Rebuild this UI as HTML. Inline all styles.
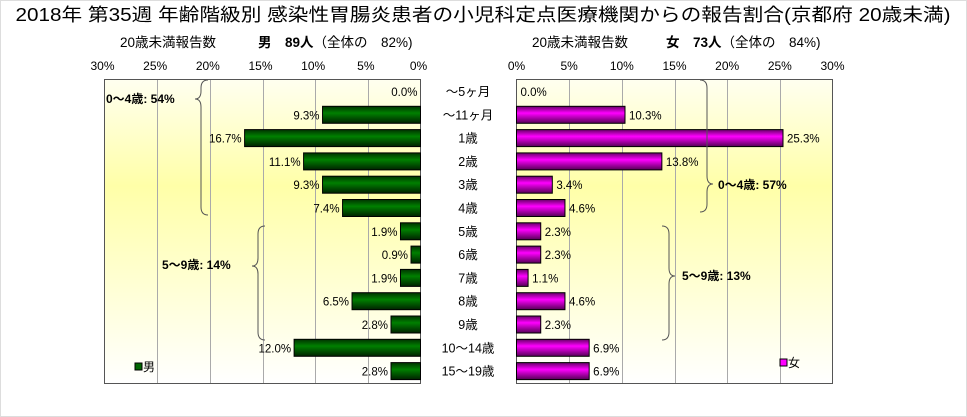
<!DOCTYPE html>
<html><head><meta charset="utf-8">
<style>
body{margin:0;background:#fff;}
svg{display:block;font-family:"Liberation Sans","Noto Sans CJK JP",sans-serif;}
</style></head>
<body>
<svg id="c" width="967" height="417" xmlns="http://www.w3.org/2000/svg">
<defs>
<linearGradient id="bgL" x1="0" y1="0" x2="0" y2="1">
<stop offset="0" stop-color="#fffff0"/><stop offset="0.35" stop-color="#ffffa8"/><stop offset="1" stop-color="#ffffff"/></linearGradient>
<linearGradient id="gG" x1="0" y1="0" x2="0" y2="1">
<stop offset="0" stop-color="#003300"/><stop offset="0.4" stop-color="#008000"/><stop offset="1" stop-color="#002200"/></linearGradient>
<linearGradient id="gM" x1="0" y1="0" x2="0" y2="1">
<stop offset="0" stop-color="#660066"/><stop offset="0.4" stop-color="#ff00ff"/><stop offset="1" stop-color="#550055"/></linearGradient>
</defs>
<rect x="0.5" y="0.5" width="966" height="416" fill="#fff" stroke="#ddd"/>
<text x="483" y="21" font-size="18" text-anchor="middle" textLength="935" lengthAdjust="spacingAndGlyphs">2018年 第35週 年齢階級別 感染性胃腸炎患者の小児科定点医療機関からの報告割合(京都府 20歳未満)</text>
<text x="168" y="47" font-size="13.5" text-anchor="middle">20歳未満報告数</text>
<text x="258" y="47" font-size="13.5"><tspan font-weight="bold">男　89人</tspan>（全体の　82%)</text>
<text x="580" y="47" font-size="13.5" text-anchor="middle">20歳未満報告数</text>
<text x="666" y="47" font-size="13.5"><tspan font-weight="bold">女　73人</tspan>（全体の　84%)</text>
<rect x="104.5" y="79.5" width="316" height="304" fill="url(#bgL)" stroke="#555"/>
<rect x="516.5" y="79.5" width="316" height="304" fill="url(#bgL)" stroke="#555"/>
<g id="grid"></g>
<g id="marks"></g>
<g fill="none" stroke="#555" stroke-width="1">
<path d="M208,80 q-7,0 -7,8 v3 q0,8 -6,8 q6,0 6,8 v100 q0,8 7,8"/>
<path d="M265,226 q-7,0 -7,8 v24 q0,8 -6,8 q6,0 6,8 v58 q0,8 7,8"/>
<path d="M700,80 q7,0 7,8 v88 q0,8 6,8 q-6,0 -6,8 v12 q0,8 -7,8"/>
<path d="M662,226 q7,0 7,8 v34 q0,8 6,8 q-6,0 -6,8 v48 q0,8 -7,8"/>
</g>
<text x="106" y="103" font-size="12" font-weight="bold">0～4歳: 54%</text>
<text x="162" y="269" font-size="12" font-weight="bold">5～9歳: 14%</text>
<text x="718" y="189" font-size="12" font-weight="bold">0～4歳: 57%</text>
<text x="682" y="280" font-size="12" font-weight="bold">5～9歳: 13%</text>
<rect x="135" y="363" width="7" height="7" fill="#006600" stroke="#000"/>
<text x="143" y="371" font-size="12">男</text>
<rect x="780" y="359" width="7" height="7" fill="#ff00ff" stroke="#000"/>
<text x="788" y="367" font-size="12">女</text>
</svg>
<script>
const ageLabels=["～5ヶ月","～11ヶ月","1歳","2歳","3歳","4歳","5歳","6歳","7歳","8歳","9歳","10～14歳","15～19歳"];
const maleValues=[0.0,9.3,16.7,11.1,9.3,7.4,1.9,0.9,1.9,6.5,2.8,12.0,2.8];
const femaleValues=[0.0,10.3,25.3,13.8,3.4,4.6,2.3,2.3,1.1,4.6,2.3,6.9,6.9];
const tickValues=[0,5,10,15,20,25,30];
const NS="http://www.w3.org/2000/svg";
const svg=document.getElementById('c');
const grid=document.getElementById('grid');
const marks=document.getElementById('marks');
const scale=316/30;
function xMale(v){return 420.5-v*scale;}
function xFemale(v){return 516.5+v*scale;}
function yRow(i){return 83+i*23.3;}
function mk(tag,attrs,parent){const e=document.createElementNS(NS,tag);for(const k in attrs)e.setAttribute(k,attrs[k]);parent.appendChild(e);return e;}
tickValues.forEach(t=>{
  if(t>0&&t<30){
    const l1=mk('line',{x1:Math.round(xMale(t))+0.5,x2:Math.round(xMale(t))+0.5,y1:80,y2:383,stroke:'#aaa'},grid);
    
    
    const l2=mk('line',{x1:Math.round(xFemale(t))+0.5,x2:Math.round(xFemale(t))+0.5,y1:80,y2:383,stroke:'#aaa'},grid);
    
    
  }
  const a=mk('text',{x:xMale(t)-2,y:70,'font-size':12,'text-anchor':'middle'},svg);
  a.textContent=t+'%';
  
  
  const b=mk('text',{x:xFemale(t),y:70,'font-size':12,'text-anchor':'middle'},svg);
  b.textContent=t+'%';
  
  
});
ageLabels.forEach((c,i)=>{
  const y=yRow(i);
  const lab=mk('text',{x:468,y:y+13,'font-size':12.5,'text-anchor':'middle'},svg);
  lab.textContent=c;
  
  
  const mv=maleValues[i];
  if(mv>0){
    const r=mk('rect',{x:xMale(mv),y:y,width:xMale(0)-xMale(mv),height:17,fill:'url(#gG)',stroke:'#000'},marks);
    
    
  }
  const mt=mk('text',{x:xMale(mv)-3,y:y+13,'font-size':11.5,'text-anchor':'end'},marks);
  mt.textContent=mv.toFixed(1)+'%';
  
  
  const fv=femaleValues[i];
  if(fv>0){
    const r=mk('rect',{x:xFemale(0),y:y,width:xFemale(fv)-xFemale(0),height:17,fill:'url(#gM)',stroke:'#000'},marks);
    
    
  }
  const ft=mk('text',{x:xFemale(fv)+4,y:y+13,'font-size':11.5},marks);
  ft.textContent=fv.toFixed(1)+'%';
  
  
});
</script>
</body></html>
